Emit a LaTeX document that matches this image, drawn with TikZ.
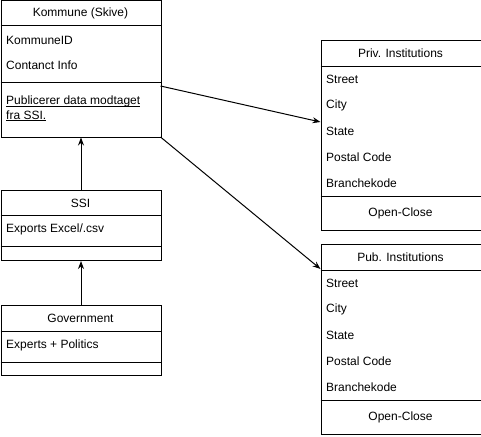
\documentclass[tikz,border=0pt]{standalone}
\usepackage{fontspec}
\setmainfont{Liberation Sans}
\usetikzlibrary{arrows.meta}
\newcommand\myul[1]{\underline{\raisebox{0pt}[\height][0pt]{#1}}}
\begin{document}
\begin{tikzpicture}[x=1pt,y=-1pt,
  box/.style={draw=black,line width=1pt,inner sep=0pt,anchor=north west,minimum width=160pt},
  sep/.style={draw=black,line width=1pt},
  ttl/.style={font=\fontsize{12}{14}\selectfont,inner sep=0pt},
  item/.style={font=\fontsize{12}{14}\selectfont,inner sep=0pt,anchor=west},
  arr/.style={draw=black,line width=1pt,-{Stealth[length=8pt,width=6pt]}}]
\useasboundingbox (0,0) rectangle (481,436);
% Kommune
\node[box,minimum height=136pt] (kom) at (0.5,0.5) {};
\draw[sep] (0.5,26) -- (160.5,26);
\draw[sep] (0.5,82) -- (160.5,82);
\node[ttl] (komt) at (80.5,13.5) {Kommune (Skive)};
\node[item] (kid) at (6,40.5) {KommuneID};
\node[item] (kci) at (6,65.5) {Contanct Info};
\node[item,anchor=base west] (kpub1) at (6,104.5) {\myul{Publicerer data modtaget}};
\node[item,anchor=base west] (kpub2) at (6,119) {\myul{fra SSI.}};
% SSI
\node[box,minimum height=70pt] (ssi) at (0.5,190) {};
\draw[sep] (0.5,215) -- (160.5,215);
\draw[sep] (0.5,246) -- (160.5,246);
\node[ttl] (ssit) at (80.5,203.5) {SSI};
\node[item] (ssie) at (6,229.5) {Exports Excel/.csv};
% Government
\node[box,minimum height=70pt] (gov) at (0.5,305) {};
\draw[sep] (0.5,331) -- (160.5,331);
\draw[sep] (0.5,362) -- (160.5,362);
\node[ttl] (govt) at (80.5,318.5) {Government};
\node[item] (gove) at (6,345.5) {Experts + Politics};
% Priv
\node[box,minimum height=190pt] (priv) at (320.5,40) {};
\draw[sep] (320.5,66) -- (480.5,66);
\draw[sep] (320.5,196) -- (480.5,196);
\node[ttl] (privt) at (400.5,53.5) {Priv. Institutions};
\node[item] (pr1) at (326,79.5) {Street};
\node[item] (pr2) at (326,105.5) {City};
\node[item] (pr3) at (326,131.5) {State};
\node[item] (pr4) at (326,157.5) {Postal Code};
\node[item] (pr5) at (326,183.5) {Branchekode};
\node[ttl] (pr6) at (400.5,213.5) {Open-Close};
% Pub
\node[box,minimum height=190pt] (pub) at (320.5,244) {};
\draw[sep] (320.5,270) -- (480.5,270);
\draw[sep] (320.5,400) -- (480.5,400);
\node[ttl] (pubt) at (400.5,257.5) {Pub. Institutions};
\node[item] (pu1) at (326,283.5) {Street};
\node[item] (pu2) at (326,309.5) {City};
\node[item] (pu3) at (326,335.5) {State};
\node[item] (pu4) at (326,361.5) {Postal Code};
\node[item] (pu5) at (326,387.5) {Branchekode};
\node[ttl] (pu6) at (400.5,417.5) {Open-Close};
% connectors
\coordinate (k1) at (160.5,86);
\coordinate (k2) at (160.5,137);
\coordinate (p1) at (320.5,122);
\coordinate (p2) at (320.5,269);
\draw[arr] (gov.north) -- (ssi.south);
\draw[arr] (ssi.north) -- (kom.south);
\draw[arr] (k1) -- (p1);
\draw[arr] (k2) -- (p2);
\end{tikzpicture}
\end{document}
